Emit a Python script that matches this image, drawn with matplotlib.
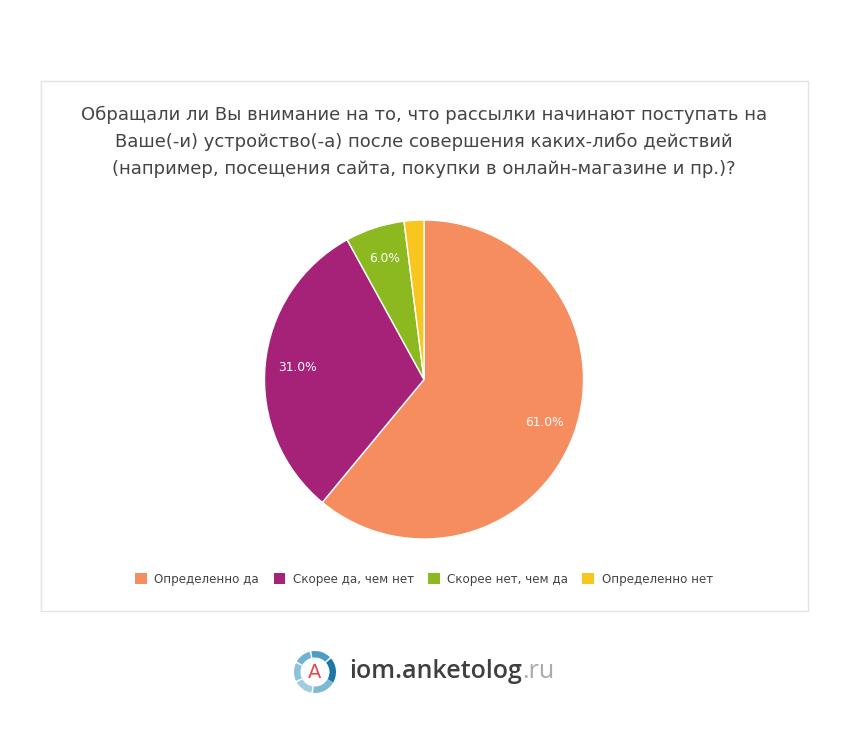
import matplotlib
matplotlib.use("Agg")
import matplotlib.pyplot as plt
from matplotlib.patches import Rectangle, Wedge

categories = ["Определенно да", "Скорее да, чем нет", "Скорее нет, чем да", "Определенно нет"]
values = [61.0, 31.0, 6.0, 2.0]
colors = ["#F68D5F", "#A62279", "#8DB920", "#F9C61F"]
title = ("Обращали ли Вы внимание на то, что рассылки начинают поступать на\n"
         "Ваше(-и) устройство(-а) после совершения каких-либо действий\n"
         "(например, посещения сайта, покупки в онлайн-магазине и пр.)?")

W, H = 848, 733
fig = plt.figure(figsize=(W / 100, H / 100), dpi=100)
fig.patch.set_facecolor("white")

def fx(x):
    return x / W

def fy(y):
    return 1 - y / H

# panel border
fig.patches.append(Rectangle((fx(40.5), fy(610.5)), fx(767), 530 / H, transform=fig.transFigure,
                             facecolor="white", edgecolor="#E3E3E3", linewidth=1, zorder=-5))

fig.text(0.5, fy(142), title, ha="center", va="center", fontsize=13, color="#444444",
         linespacing=1.62, family="DejaVu Sans")

# pie
cx, cy, r = 424, 379.5, 159.5
ax = fig.add_axes([fx(cx - r), fy(cy + r), 2 * r / W, 2 * r / H])
ax.set_zorder(2)
wedges, texts, autotexts = ax.pie(
    values, colors=colors, startangle=90, counterclock=False,
    autopct=lambda p: f"{p:.1f}%" if p >= 5 else "", pctdistance=0.8,
    wedgeprops=dict(edgecolor="white", linewidth=1),
    textprops=dict(color="white", fontsize=8.8))
ax.set_xlim(-1, 1)
ax.set_ylim(-1, 1)
ax.set_aspect("equal")
ax.axis("off")

# legend
handles = [Rectangle((0, 0), 1, 1, facecolor=c, edgecolor="none") for c in colors]
fig.legend(handles, categories, loc="center", bbox_to_anchor=(0.5, fy(579)), ncol=4,
           frameon=False, fontsize=8.6, labelcolor="#444444", handlelength=1.0, handleheight=1.0,
           handletextpad=0.6, columnspacing=1.2)

# logo
lax = fig.add_axes([0, 0, 1, 1], facecolor="none")
lax.set_xlim(0, W)
lax.set_ylim(H, 0)
lax.set_aspect("equal")
lax.axis("off")
lcx, lcy = 315, 672
segs = [(-30, 40, "#1B78A6"), (45, 100, "#4C9CC4"), (105, 150, "#6FB3D2"),
        (155, 205, "#8CC3DA"), (210, 260, "#9FCEE0"), (265, 330, "#7FBAD5")]
for a1, a2, c in segs:
    lax.add_patch(Wedge((lcx, lcy), 21, -a2, -a1, width=6.5, facecolor=c, edgecolor="none"))
lax.text(lcx, lcy + 1, "A", ha="center", va="center", fontsize=14, color="#E8474A",
         family="DejaVu Sans")
t1 = lax.text(349, 671, "iom.anketolog", ha="left", va="center", fontsize=18, color="#3F3F3F",
              family="Open Sans", fontweight="semibold")
fig.canvas.draw()
bb = t1.get_window_extent()
inv = lax.transData.inverted()
xe, _ = inv.transform((bb.x1, 0))
lax.text(xe, 671, ".ru", ha="left", va="center", fontsize=18, color="#AAAAAA",
         family="Open Sans")

fig.savefig("out.png", dpi=100, facecolor="white")
